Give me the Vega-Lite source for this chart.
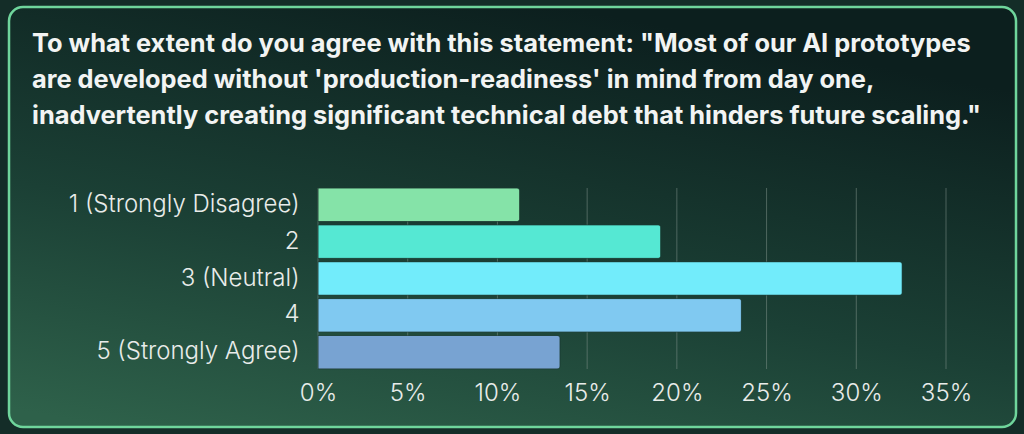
{
  "$schema": "https://vega.github.io/schema/vega-lite/v6.json",
  "width": 1007,
  "height": 420,
  "autosize": {"type": "none"},
  "padding": {"left": 9, "top": 7, "right": 8, "bottom": 7},
  "background": "#142d28",
  "view": {
    "fill": {
      "gradient": "linear",
      "x1": 0.1, "y1": 1, "x2": 0.55, "y2": 0,
      "stops": [
        {"offset": 0, "color": "#2e614a"},
        {"offset": 0.45, "color": "#1b4035"},
        {"offset": 1, "color": "#0c1f1e"}
      ]
    },
    "stroke": "#6fd59c",
    "strokeWidth": 2.5,
    "cornerRadius": 14
  },
  "title": {
    "text": [
      "To what extent do you agree with this statement: \"Most of our AI prototypes",
      "are developed without 'production-readiness' in mind from day one,",
      "inadvertently creating significant technical debt that hinders future scaling.\""
    ],
    "anchor": "start",
    "frame": "group",
    "orient": "top",
    "baseline": "top",
    "offset": 0,
    "dx": 23,
    "dy": 122,
    "font": "Inter",
    "fontSize": 25.4,
    "fontWeight": "bold",
    "color": "#f2f4f3",
    "lineHeight": 36
  },
  "layer": [
    {
      "data": {
        "values": [
          {"tick": 0}, {"tick": 0.05}, {"tick": 0.1}, {"tick": 0.15},
          {"tick": 0.2}, {"tick": 0.25}, {"tick": 0.3}, {"tick": 0.35}
        ]
      },
      "mark": {"type": "rule", "color": "#7d8f89", "opacity": 0.55, "strokeWidth": 1},
      "encoding": {
        "x": {"field": "tick", "type": "quantitative"},
        "y": {"datum": "1 (Strongly Disagree)", "bandPosition": 0},
        "y2": {"datum": "5 (Strongly Agree)", "bandPosition": 1}
      }
    },
    {
      "data": {
        "values": [
          {"rating": "1 (Strongly Disagree)", "pct": 0.1124},
          {"rating": "2", "pct": 0.191},
          {"rating": "3 (Neutral)", "pct": 0.3256},
          {"rating": "4", "pct": 0.236},
          {"rating": "5 (Strongly Agree)", "pct": 0.1349}
        ]
      },
      "mark": {"type": "bar", "cornerRadiusEnd": 3, "stroke": "#1c3a31", "strokeWidth": 1, "strokeOpacity": 0.5},
      "encoding": {
        "x": {"field": "pct", "type": "quantitative"},
        "y": {"field": "rating", "type": "nominal"},
        "color": {
          "field": "rating",
          "type": "nominal",
          "sort": null,
          "scale": {"range": ["#85e3a8", "#55e8d3", "#72ecfb", "#80c9f1", "#78a3d2"]},
          "legend": null
        }
      }
    }
  ],
  "encoding": {
    "y": {
      "type": "nominal",
      "scale": {
        "domain": ["1 (Strongly Disagree)", "2", "3 (Neutral)", "4", "5 (Strongly Agree)"],
        "range": [181, 362],
        "paddingInner": 0.09,
        "paddingOuter": 0
      },
      "axis": {
        "title": null,
        "orient": "left",
        "offset": -290,
        "domain": false,
        "ticks": false,
        "tickSize": 0,
        "labelPadding": 0,
        "labelFont": "Inter",
        "labelFontSize": 24,
        "labelFontWeight": 300,
        "labelColor": "#e9ecea",
        "labelLimit": 400,
        "grid": false
      }
    },
    "x": {
      "type": "quantitative",
      "scale": {"domain": [0, 0.35], "range": [309, 937], "nice": false, "zero": true},
      "axis": {
        "title": null,
        "format": ".0%",
        "values": [0, 0.05, 0.1, 0.15, 0.2, 0.25, 0.3, 0.35],
        "domain": false,
        "ticks": false,
        "tickSize": 0,
        "labelPadding": 0,
        "offset": -46,
        "grid": false,
        "labelFont": "Inter",
        "labelFontSize": 24,
        "labelFontWeight": 300,
        "labelColor": "#e9ecea",
        "labelFlush": false
      }
    }
  }
}
